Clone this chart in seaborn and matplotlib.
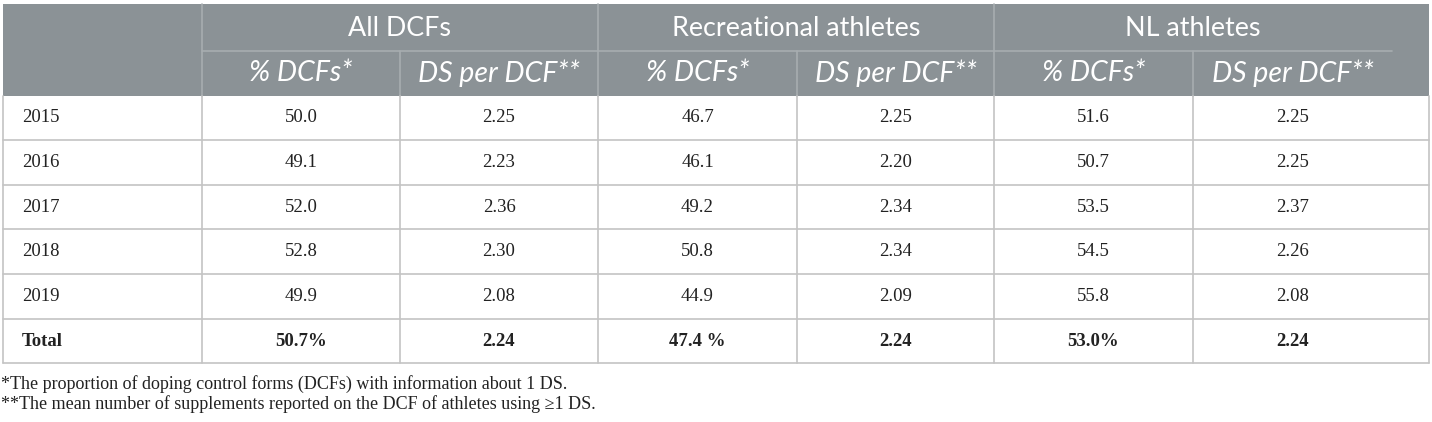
import matplotlib
matplotlib.use("Agg")
import matplotlib.pyplot as plt
import seaborn as sns

# ============================
# 데이터
# ============================
years = ["2015", "2016", "2017", "2018", "2019"]

all_pct = ["50.0", "49.1", "52.0", "52.8", "49.9"]
all_ds = ["2.25", "2.23", "2.36", "2.30", "2.08"]
rec_pct = ["46.7", "46.1", "49.2", "50.8", "44.9"]
rec_ds = ["2.25", "2.20", "2.34", "2.34", "2.09"]
nl_pct = ["51.6", "50.7", "53.5", "54.5", "55.8"]
nl_ds = ["2.25", "2.25", "2.37", "2.26", "2.08"]

total_label = "Total"
totals = ["50.7%", "2.24", "47.4 %", "2.24", "53.0%", "2.24"]

groups = ["All DCFs", "Recreational athletes", "NL athletes"]
sub_headers = ["% DCFs*", "DS per DCF**"] * 3

footnotes = [
    "*The proportion of doping control forms (DCFs) with information about 1 DS.",
    "**The mean number of supplements reported on the DCF of athletes using \u22651 DS.",
]

# ============================
# 스타일
# ============================
sns.set_theme(style="white")
plt.rcParams["font.family"] = ["Liberation Serif", "DejaVu Serif"]

HEAD_BG = "#8b9296"
HEAD_LINE = "#a7adb0"
GRID = "#c4c4c4"
TEXT = "#222222"
HEAD_FONT = ["Lato", "DejaVu Sans"]

# layout (pixels)
col_x = [3, 202, 400, 598, 797, 994, 1193, 1429]
content_right = 1392          # 마지막 열 내용/밑줄 기준
top, mid, head_bot = 4, 51, 96
row_y = [96, 140, 185, 229, 274, 319, 363]

# 열 중심 (마지막 열은 content_right 기준)
edges = col_x[1:-1] + [content_right]
centers = [(edges[i] + edges[i + 1]) / 2 for i in range(6)]

fig = plt.figure(figsize=(14.32, 4.22), dpi=100)
ax = fig.add_axes([0, 0, 1, 1])
ax.set_xlim(0, 1432)
ax.set_ylim(422, 0)
ax.axis("off")

# header background
ax.add_patch(plt.Rectangle((col_x[0], top), col_x[-1] - col_x[0], head_bot - top,
                           facecolor=HEAD_BG, edgecolor="none"))

# header lines
for i in (1, 3, 5):
    ax.plot([col_x[i], col_x[i]], [top, head_bot], color=HEAD_LINE, lw=1.2)
for i in (2, 4, 6):
    ax.plot([col_x[i], col_x[i]], [mid, head_bot], color=HEAD_LINE, lw=1.2)
ax.plot([col_x[1], content_right], [mid, mid], color=HEAD_LINE, lw=1.2)

# header text
for g, name in enumerate(groups):
    x0, x1 = edges[2 * g], edges[2 * g + 2]
    ax.text((x0 + x1) / 2, 29, name, ha="center", va="center",
            color="white", fontsize=19.4, family=HEAD_FONT)
for c, name in enumerate(sub_headers):
    ax.text(centers[c], 73, name, ha="center", va="center",
            color="white", fontsize=20.5, style="italic", family=HEAD_FONT)

# body grid
for y in row_y[1:]:
    ax.plot([col_x[0], col_x[-1]], [y, y], color=GRID, lw=1.2)
for x in col_x:
    ax.plot([x, x], [head_bot, row_y[-1]], color=GRID, lw=1.2)

# body text
columns = [all_pct, all_ds, rec_pct, rec_ds, nl_pct, nl_ds]
for r, year in enumerate(years):
    yc = (row_y[r] + row_y[r + 1]) / 2
    ax.text(col_x[0] + 19, yc, year, ha="left", va="center", fontsize=13.5, color=TEXT)
    for c, col in enumerate(columns):
        ax.text(centers[c], yc, col[r], ha="center", va="center",
                fontsize=13.5, color=TEXT)

yc = (row_y[5] + row_y[6]) / 2
ax.text(col_x[0] + 19, yc, total_label, ha="left", va="center", fontsize=13.5,
        fontweight="bold", color=TEXT)
for c, val in enumerate(totals):
    ax.text(centers[c], yc, val, ha="center", va="center",
            fontsize=13.5, fontweight="bold", color=TEXT)

# footnotes
for i, note in enumerate(footnotes):
    ax.text(1, 384 + i * 20, note, ha="left", va="center", fontsize=13, color=TEXT)

fig.savefig("out.png", dpi=100)
